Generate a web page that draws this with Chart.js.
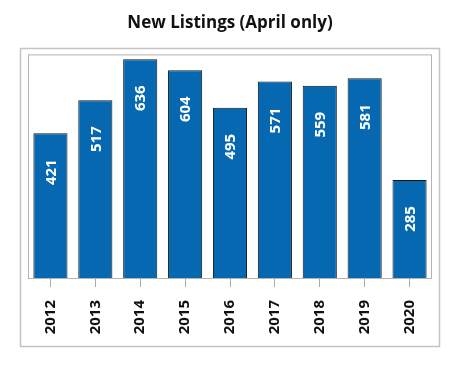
<!DOCTYPE html>
<html>
<head>
<meta charset="utf-8">
<script src="https://cdn.jsdelivr.net/npm/chart.js@4/dist/chart.umd.min.js"></script>
<style>
  html, body { margin: 0; padding: 0; background: #fff; }
  #wrap { width: 460px; height: 369px; }
</style>
</head>
<body>
<div id="wrap"><canvas id="listingsChart" width="460" height="369"></canvas></div>
<script>
const years = ['2012', '2013', '2014', '2015', '2016', '2017', '2018', '2019', '2020'];
const newListings = [421, 517, 636, 604, 495, 571, 559, 581, 285];
const chartTitle = 'New Listings (April only)';

const FONT = '"Open Sans", "Liberation Sans", sans-serif';

// outer grey frame + inner plot border
const framePlugin = {
  id: 'frames',
  beforeDatasetsDraw(chart) {
    const { ctx, chartArea } = chart;
    ctx.save();
    ctx.strokeStyle = '#c4c4c4';
    ctx.lineWidth = 1.5;
    ctx.strokeRect(20.5, 48.5, 419, 298);
    ctx.strokeStyle = '#b4b4b4';
    ctx.lineWidth = 1;
    ctx.strokeRect(chartArea.left + 0.5, chartArea.top + 0.5,
      chartArea.right - chartArea.left - 1, chartArea.bottom - chartArea.top);
    ctx.restore();
  }
};

// white rotated value labels near the top of each bar
const valueLabels = {
  id: 'valueLabels',
  afterDatasetsDraw(chart) {
    const { ctx } = chart;
    const meta = chart.getDatasetMeta(0);
    ctx.save();
    ctx.fillStyle = '#ffffff';
    ctx.font = 'bold 15px ' + FONT;
    ctx.textAlign = 'center';
    ctx.textBaseline = 'middle';
    meta.data.forEach((bar, i) => {
      ctx.save();
      ctx.translate(bar.x, bar.y + 39);
      ctx.rotate(-Math.PI / 2);
      ctx.fillText(String(newListings[i]), 0, 1);
      ctx.restore();
    });
    ctx.restore();
  }
};

new Chart(document.getElementById('listingsChart'), {
  type: 'bar',
  data: {
    labels: years,
    datasets: [{
      data: newListings,
      backgroundColor: '#0568b1',
      borderColor: '#151515',
      borderWidth: 1,
      categoryPercentage: 1,
      barPercentage: 0.76
    }]
  },
  options: {
    responsive: false,
    animation: false,
    layout: { padding: { left: 28, right: 28, top: 0, bottom: 0 } },
    plugins: {
      legend: { display: false },
      tooltip: { enabled: false },
      title: {
        display: true,
        text: chartTitle,
        color: '#111',
        font: { family: FONT, size: 17, weight: 'bold' },
        padding: { top: 13, bottom: 21 }
      }
    },
    scales: {
      y: { display: false, min: 0, max: 650 },
      x: {
        afterFit(scale) { scale.height = 91; },
        border: { display: false },
        grid: {
          offset: false,
          drawOnChartArea: false,
          drawTicks: true,
          tickLength: 9,
          color: '#aaaaaa'
        },
        ticks: {
          minRotation: 90,
          maxRotation: 90,
          padding: 13,
          color: '#111',
          font: { family: FONT, size: 15, weight: 'bold' }
        }
      }
    }
  },
  plugins: [framePlugin, valueLabels]
});
</script>
</body>
</html>
